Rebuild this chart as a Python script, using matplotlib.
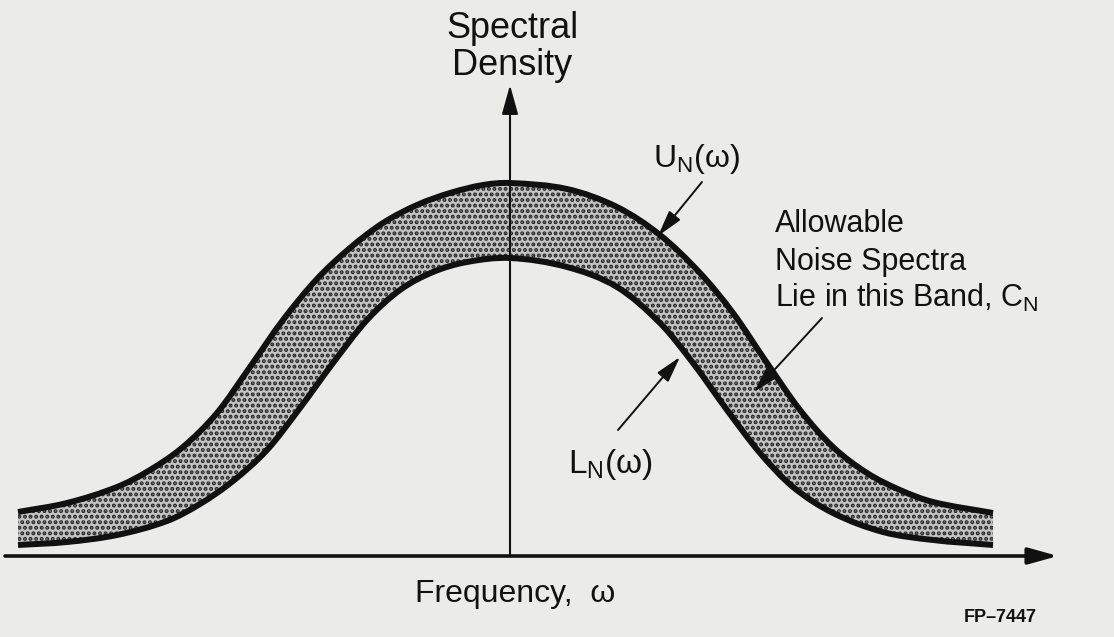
import numpy as np
import matplotlib
matplotlib.use("Agg")
import matplotlib.pyplot as plt
from matplotlib.path import Path
from matplotlib.patches import PathPatch

plt.rcParams["font.family"] = ["Liberation Sans", "DejaVu Sans"]
plt.rcParams["mathtext.fontset"] = "custom"
plt.rcParams["mathtext.rm"] = "Liberation Sans"
plt.rcParams["mathtext.it"] = "Liberation Sans:italic"
plt.rcParams["hatch.linewidth"] = 2.0

# upper bound U_N(w) of the allowable noise spectra
omega_u = [-4.92, -4.43, -3.93, -3.60, -3.27, -2.93, -2.60, -2.27, -1.93,
           -1.60, -1.27, -0.93, -0.60, -0.27, 0.00, 0.57, 1.07, 1.50, 1.90,
           2.23, 2.57, 2.90, 3.23, 3.57, 3.90, 4.23, 4.83]
upper = [0.44, 0.53, 0.69, 0.86, 1.09, 1.43, 1.89, 2.36, 2.77,
         3.08, 3.33, 3.51, 3.63, 3.71, 3.73, 3.67, 3.49, 3.21, 2.83,
         2.43, 1.93, 1.46, 1.09, 0.83, 0.66, 0.54, 0.43]

# lower bound L_N(w)
omega_l = [-4.92, -4.43, -3.93, -3.43, -3.10, -2.77, -2.43, -2.10, -1.77,
           -1.43, -1.10, -0.77, -0.43, 0.00, 0.57, 1.07, 1.50, 1.83, 2.17,
           2.50, 2.83, 3.23, 3.73, 4.23, 4.83]
lower = [0.11, 0.14, 0.21, 0.35, 0.52, 0.75, 1.06, 1.48, 1.93,
         2.36, 2.66, 2.84, 2.94, 2.98, 2.89, 2.69, 2.33, 1.93, 1.46,
         1.03, 0.69, 0.43, 0.24, 0.16, 0.11]

PAPER = "#ebebea"
INK = "#111111"


def smooth_path(xs, ys):
    """Cubic Hermite curve y(x) through the points, as Bezier segments."""
    x = np.asarray(xs, float)
    y = np.asarray(ys, float)
    n = len(x)
    m = np.empty(n)
    m[0] = (y[1] - y[0]) / (x[1] - x[0])
    m[-1] = (y[-1] - y[-2]) / (x[-1] - x[-2])
    m[1:-1] = (y[2:] - y[:-2]) / (x[2:] - x[:-2])
    verts = [(x[0], y[0])]
    codes = [Path.MOVETO]
    for i in range(n - 1):
        h = (x[i + 1] - x[i]) / 3.0
        verts += [(x[i] + h, y[i] + m[i] * h),
                  (x[i + 1] - h, y[i + 1] - m[i + 1] * h),
                  (x[i + 1], y[i + 1])]
        codes += [Path.CURVE4] * 3
    return np.array(verts), codes


fig = plt.figure(figsize=(11.14, 6.37), dpi=100, facecolor=PAPER)
ax = fig.add_axes([0, 0, 1, 1])
ax.set_facecolor(PAPER)
ax.set_xlim(-5.10, 6.04)
ax.set_ylim(-0.81, 5.56)
ax.axis("off")

uv, uc = smooth_path(omega_u, upper)
lv, lc = smooth_path(omega_l, lower)

# stippled band C_N between the two bounds
band_verts = np.vstack([uv, lv[::-1], uv[:1]])
band_codes = uc + [Path.LINETO] + lc[1:] + [Path.CLOSEPOLY]
band = PathPatch(Path(band_verts, band_codes), facecolor="#c4c4c4",
                 edgecolor="#262626", linewidth=0, hatch="...", zorder=1)
ax.add_patch(band)

# bounding curves
for v, c in ((uv, uc), (lv, lc)):
    ax.add_patch(PathPatch(Path(v, c), facecolor="none", edgecolor=INK,
                           linewidth=4.3, capstyle="butt", zorder=3))

# coordinate axes with arrowheads
ax.annotate("", xy=(5.48, 0.0), xytext=(-5.05, 0.0),
            arrowprops=dict(arrowstyle="-|>,head_length=0.9,head_width=0.25",
                            mutation_scale=20, lw=2.6, color=INK,
                            shrinkA=0, shrinkB=0), zorder=4)
ax.annotate("", xy=(0.0, 4.71), xytext=(0.0, 0.0),
            arrowprops=dict(arrowstyle="-|>,head_length=0.9,head_width=0.25",
                            mutation_scale=20, lw=1.5, color=INK,
                            shrinkA=0, shrinkB=0), zorder=4)

# pointer arrows
pointer = dict(arrowstyle="-|>,head_length=0.8,head_width=0.22",
               mutation_scale=20, lw=1.4, color=INK, shrinkA=0, shrinkB=0)
ax.annotate("", xy=(1.48, 3.20), xytext=(1.92, 3.74), arrowprops=pointer, zorder=5)
ax.annotate("", xy=(2.44, 1.64), xytext=(3.12, 2.38), arrowprops=pointer, zorder=5)
ax.annotate("", xy=(1.70, 1.99), xytext=(1.08, 1.26), arrowprops=pointer, zorder=5)

# labels
ax.text(0.02, 5.18, "Spectral", ha="center", va="baseline", fontsize=26, color=INK)
ax.text(0.02, 4.81, "Density", ha="center", va="baseline", fontsize=26, color=INK)
ax.text(1.43, 3.89, r"U$_\mathrm{N}$(ω)", ha="left", va="baseline", fontsize=23, color=INK)
ax.text(0.58, 0.83, r"L$_\mathrm{N}$(ω)", ha="left", va="baseline", fontsize=24, color=INK)
ax.text(2.65, 3.24, "Allowable", ha="left", va="baseline", fontsize=22, color=INK)
ax.text(2.65, 2.86, "Noise Spectra", ha="left", va="baseline", fontsize=22, color=INK)
ax.text(2.65, 2.49, r"Lie in this Band, C$_\mathrm{N}$", ha="left", va="baseline",
        fontsize=22, color=INK)
ax.text(0.05, -0.46, "Frequency,  ω", ha="center", va="baseline", fontsize=23, color=INK)
ax.text(4.54, -0.66, "FP–7447", ha="left", va="baseline", fontsize=13,
        fontweight="bold", color=INK)

fig.savefig("out.png", dpi=100, facecolor=PAPER)
